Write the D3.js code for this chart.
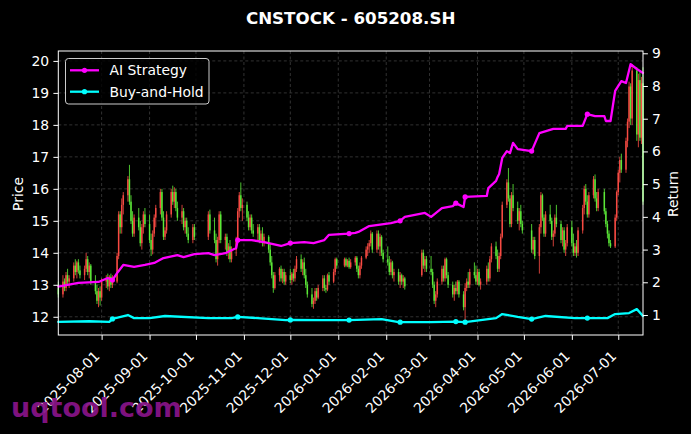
<!DOCTYPE html>
<html><head><meta charset="utf-8">
<script src="https://cdn.jsdelivr.net/npm/d3@7"></script>
<style>html,body{margin:0;padding:0;background:#000;} svg{display:block;font-family:"DejaVu Sans",sans-serif;}</style>
</head><body><svg id="c" width="691" height="434"></svg>
<script>
const title = "CNSTOCK - 605208.SH";
const firstDay = "2025-07-04", lastDay = "2026-07-17";
const holidays = ["2025-10-01","2025-10-02","2025-10-03","2025-10-06","2025-10-07","2025-10-08",
  "2026-01-01","2026-01-02","2026-02-16","2026-02-17","2026-02-18","2026-02-19","2026-02-20","2026-02-23",
  "2026-04-06","2026-05-01","2026-05-04","2026-05-05","2026-06-19"];

const opens = [
 12.9,12.7,13.1,12.9,13.3,13.1,13.2,13.6,13.4,13.7,13.45,13.3,13.5,13.8,13.4,13.6,13.1,12.8,12.5,12.8,
 12.6,13.1,13.2,12.95,13.25,13.0,13.1,13.9,15.2,14.8,15.5,15.8,16.3,15.6,15.0,14.6,15.1,14.8,14.3,14.8,15.2,
 14.9,14.4,14.1,14.6,15.1,15.4,15.9,15.1,14.5,14.7,15.2,15.9,15.6,15.9,15.4,15.1,15.3,14.8,15.0,14.6,14.4,14.8,
 14.5,15.2,14.7,14.4,13.8,14.4,15.2,14.4,14.5,14.0,14.2,13.8,14.1,14.4,15.3,15.8,15.4,
 15.5,15.1,14.8,15.1,14.7, 14.6,14.8,14.4,14.6,14.3, 14.5,14.1,13.7,13.3,12.9, 13.3,13.5,13.2,13.4,13.1,
 13.3,13.15,13.35,13.2,13.5, 13.8,13.5,13.7,13.3,13.0, 12.7,12.4,12.5,12.8,12.6, 12.9,13.2,12.9,12.85,13.3, 13.1,13.4,13.8,
 13.6,13.8,13.6,13.75,13.55, 13.7,13.85,13.5,13.3,13.6, 13.85,14.1,14.2,14.3,14.6, 14.1,14.6,14.2,14.5,14.0,
 13.8,13.7,13.4,13.7,13.3, 13.4,13.1,13.3,13.1,13.2, 13.3,14.0,13.6,13.8,
 13.5,13.4,13.0,12.5,12.7, 13.1,13.5,13.2,13.8,13.3, 13.0,12.7,12.9,12.8,13.1, 12.7,12.3,12.9,13.1,13.0, 13.4,13.3,
 13.1,13.4,13.0, 13.1,13.5,13.2,13.8, 14.2,13.9,13.5,13.9,14.5, 15.5,16.2,15.7,14.9,15.8, 15.4,15.0,15.3,14.9,
 14.7,14.1,14.4, 13.9,14.8,15.8,15.1,14.6, 15.2,15.0,14.5,14.6,15.1, 14.9,14.4,14.7,14.1,14.3,
 14.8,14.3,14.0,14.2,14.0, 14.7,15.4,16.0,15.6,15.2, 15.8,16.3,15.7,15.4, 15.9,15.3,14.9,14.6,14.3, 14.2,15.1,
 15.9,16.5,16.9, 16.6,17.5,18.1,19.2,18.2, 19.7,17.7,19.4,17.6,19.3];
const highs = [
 13.1,13.3,13.2,13.4,13.5,13.3,13.7,13.8,13.75,13.8,13.6,13.6,14.0,13.9,13.7,13.65,13.3,13.0,12.9,12.95,
 13.2,13.3,13.35,13.3,13.35,13.3,14.0,15.3,15.3,15.7,15.9,16.4,16.75,15.8,15.3,15.2,15.4,15.0,14.9,15.3,15.4,
 15.2,14.6,14.7,15.2,15.5,16.0,16.0,15.3,14.8,15.3,16.0,16.1,16.05,16.0,15.6,15.5,15.4,15.1,15.1,14.8,14.9,14.9,
 15.3,15.35,15.1,14.6,14.5,15.3,15.3,14.6,14.6,14.3,14.4,14.2,14.5,15.4,15.9,16.2,15.7,
 15.6,15.3,15.2,15.2,14.9, 14.9,14.9,14.7,14.8,14.6, 14.55,14.3,13.9,13.4,13.4, 13.55,13.6,13.5,13.5,13.4,
 13.5,13.4,13.5,13.6,13.9, 13.95,13.8,13.85,13.5,13.1, 12.9,12.6,12.9,12.9,13.0, 13.3,13.3,13.0,13.35,13.4, 13.5,13.85,13.85,
 13.85,13.85,13.8,13.85,13.8, 13.9,13.9,13.6,13.7,13.9, 14.2,14.3,14.4,14.7,14.65, 14.7,14.7,14.6,14.55,14.1,
 14.2,13.9,13.8,13.75,13.5, 13.5,13.4,13.35,13.3,13.25, 14.1,14.1,13.9,13.9,
 13.9,13.5,13.1,12.8,13.2, 13.6,13.6,13.85,13.85,13.4, 13.1,13.0,13.1,13.15,13.15, 12.8,13.05,13.2,13.4,13.5, 13.7,13.6,
 13.5,13.5,13.2, 13.6,13.7,13.9,14.3, 14.35,14.1,14.0,14.6,15.6, 16.3,16.65,15.8,15.9,16.15, 15.6,15.4,15.5,15.0,
 14.9,14.5,14.5, 14.9,15.9,15.85,15.2,15.3, 15.5,15.1,14.7,15.2,15.5, 15.0,14.8,14.8,14.4,14.9,
 15.0,14.6,14.3,14.4,14.8, 15.5,16.1,16.15,15.8,15.9, 16.4,16.45,15.9,16.0, 16.0,15.4,15.0,14.7,14.4, 15.2,15.95,
 16.6,17.0,17.1, 17.6,18.2,19.35,19.3,19.9, 19.8,19.6,19.7,19.5,19.8];
const lows = [
 12.6,12.6,12.8,12.8,13.0,12.9,13.1,13.3,13.2,13.35,13.2,13.15,13.4,13.3,13.2,13.0,12.7,12.4,12.3,12.35,
 12.5,12.9,12.85,12.8,12.9,12.9,13.05,13.8,14.6,14.6,15.2,15.6,15.5,14.9,14.5,14.5,14.7,14.2,14.1,14.6,14.8,
 14.3,13.9,13.95,14.5,14.8,15.2,15.0,14.4,14.4,14.6,15.1,15.5,15.4,15.3,15.0,14.9,14.7,14.6,14.5,14.3,14.3,14.4,
 14.4,14.6,14.3,13.7,13.6,14.3,14.3,14.1,13.9,13.8,13.7,13.7,13.9,14.3,15.1,15.3,15.0,
 15.0,14.7,14.7,14.6,14.5, 14.4,14.3,14.3,14.2,14.2, 14.0,13.6,13.2,12.75,12.85, 13.1,13.1,13.05,13.0,13.0,
 13.05,13.0,13.1,13.1,13.4, 13.4,13.3,13.2,12.9,12.6, 12.3,12.25,12.4,12.5,12.55, 12.8,12.8,12.75,12.8,13.0, 13.05,13.3,13.5,
 13.55,13.55,13.55,13.5,13.5, 13.6,13.4,13.2,13.2,13.5, 13.8,13.9,14.0,14.2,14.0, 14.0,14.1,13.9,13.9,13.7,
 13.6,13.3,13.3,13.2,13.1, 13.0,12.9,13.0,12.9,12.85, 13.25,13.5,13.4,13.4,
 13.3,12.9,12.4,12.3,12.6, 13.0,13.1,13.1,13.2,12.9, 12.6,12.5,12.7,12.7,12.6, 12.2,11.9,12.8,12.9,12.9, 13.2,13.0,
 13.0,12.95,12.85, 13.0,13.1,13.1,13.7, 13.8,13.4,13.4,13.8,14.45, 15.4,15.6,14.8,14.8,15.3, 14.9,14.7,14.8,14.6,
 14.0,13.95,13.8, 13.35,14.6,15.0,14.5,14.5, 14.9,14.4,14.2,14.5,14.8, 14.3,14.2,14.0,13.9,14.2,
 14.2,13.9,13.9,13.85,13.9, 14.6,15.2,15.5,15.1,15.1, 15.7,15.6,15.3,15.3, 15.2,14.8,14.45,14.2,14.15, 14.15,15.0,
 15.8,16.2,16.5, 16.5,17.3,17.9,18.0,18.0, 17.5,17.3,17.5,17.4,15.5];
const closes = [
 12.7,13.1,12.9,13.3,13.1,13.2,13.6,13.4,13.7,13.45,13.3,13.5,13.8,13.4,13.6,13.1,12.8,12.5,12.8,12.6,
 13.1,13.2,12.95,13.25,13.0,13.1,13.9,15.2,14.8,15.5,15.8,16.3,15.6,15.0,14.6,15.1,14.8,14.3,14.8,15.2,14.9,
 14.4,14.1,14.6,15.1,15.4,15.9,15.1,14.5,14.7,15.2,15.9,15.6,15.9,15.4,15.1,15.3,14.8,15.0,14.6,14.4,14.8,14.5,
 15.2,14.7,14.4,13.8,14.4,15.2,14.4,14.5,14.0,14.2,13.8,14.1,14.4,15.3,15.8,15.4,15.5,
 15.1,14.8,15.1,14.7,14.6, 14.8,14.4,14.6,14.3,14.5, 14.1,13.7,13.3,12.9,13.3, 13.5,13.2,13.4,13.1,13.3,
 13.15,13.35,13.2,13.5,13.8, 13.5,13.7,13.3,13.0,12.7, 12.4,12.5,12.8,12.6,12.9, 13.2,12.9,12.85,13.3,13.1, 13.4,13.8,13.6,
 13.8,13.6,13.75,13.55,13.7, 13.85,13.5,13.3,13.6,13.85, 14.1,14.2,14.3,14.6,14.1, 14.6,14.2,14.5,14.0,13.8,
 13.7,13.4,13.7,13.3,13.4, 13.1,13.3,13.1,13.2,12.95, 14.0,13.6,13.8,13.5,
 13.4,13.0,12.5,12.7,13.1, 13.5,13.2,13.8,13.3,13.0, 12.7,12.9,12.8,13.1,12.7, 12.3,12.9,13.1,13.0,13.4, 13.3,13.1,
 13.4,13.0,13.1, 13.5,13.2,13.8,14.2, 13.9,13.5,13.9,14.5,15.5, 16.2,15.7,14.9,15.8,15.4, 15.0,15.3,14.9,14.7,
 14.1,14.4,13.9, 14.8,15.8,15.1,14.6,15.2, 15.0,14.5,14.6,15.1,14.9, 14.4,14.7,14.1,14.3,14.8,
 14.3,14.0,14.2,14.0,14.7, 15.4,16.0,15.6,15.2,15.8, 16.3,15.7,15.4,15.9, 15.3,14.9,14.6,14.3,14.2, 15.1,15.9,
 16.5,16.9,16.6, 17.5,18.1,19.2,18.2,19.7, 17.7,19.4,17.6,19.3,15.6];

const stratDates = ["2025-07-04","2025-07-17","2025-07-30","2025-08-05","2025-08-08","2025-08-11","2025-08-15","2025-08-22","2025-08-29",
 "2025-09-04","2025-09-10","2025-09-19","2025-09-23","2025-09-30","2025-10-09","2025-10-13","2025-10-20","2025-10-27","2025-10-28",
 "2025-11-06","2025-11-14","2025-11-25","2025-12-01","2025-12-10","2025-12-16","2025-12-23","2025-12-26",
 "2026-01-05","2026-01-08","2026-01-12","2026-01-14","2026-01-21","2026-02-04","2026-02-10","2026-02-13","2026-02-26",
 "2026-03-02","2026-03-09","2026-03-16","2026-03-18","2026-03-23","2026-03-24","2026-04-07","2026-04-08","2026-04-13",
 "2026-04-14","2026-04-15","2026-04-17","2026-04-20","2026-04-22","2026-04-24","2026-04-27","2026-05-06","2026-05-11",
 "2026-05-20","2026-05-28","2026-05-29","2026-06-08","2026-06-11","2026-06-16","2026-06-22","2026-06-23","2026-06-26",
 "2026-06-29","2026-07-03","2026-07-06","2026-07-09","2026-07-13","2026-07-17"];
const stratValues = [1.87,1.98,2.01,2.13,2.07,2.28,2.53,2.47,2.53,
 2.59,2.74,2.83,2.77,2.86,2.89,2.83,2.89,3.05,3.29,
 3.29,3.23,3.11,3.20,3.23,3.20,3.29,3.45,
 3.48,3.49,3.51,3.54,3.72,3.81,3.88,4.00,4.12,
 4.00,4.27,4.33,4.42,4.30,4.61,4.64,4.88,5.10,
 5.22,5.31,5.80,6.01,5.95,6.26,6.07,6.01,6.56,
 6.69,6.69,6.78,6.78,7.14,7.08,7.08,6.93,6.93,
 7.85,8.15,8.09,8.67,8.52,8.40];

const bhDates = ["2025-07-04","2025-07-24","2025-08-06","2025-08-08","2025-08-18","2025-08-22","2025-09-01","2025-09-11",
 "2025-10-09","2025-10-24","2025-10-28","2025-11-10","2025-11-28","2025-12-01","2025-12-22","2026-01-08","2026-01-29",
 "2026-02-09","2026-02-10","2026-03-02","2026-03-18","2026-03-24","2026-04-13","2026-04-17","2026-04-27","2026-05-06",
 "2026-05-15","2026-06-03","2026-06-11","2026-06-24","2026-06-29","2026-07-08","2026-07-13","2026-07-17"];
const bhValues = [0.79,0.81,0.79,0.88,1.00,0.905,0.905,0.97,
 0.905,0.905,0.94,0.905,0.845,0.85,0.845,0.845,0.875,
 0.78,0.78,0.78,0.80,0.78,0.905,1.03,0.94,0.875,
 0.97,0.905,0.905,0.905,1.03,1.06,1.18,0.97];

const markerDates = ["2025-08-08","2025-10-28","2025-12-01","2026-01-08","2026-02-10","2026-03-18","2026-03-24","2026-05-06","2026-06-11"];
const priceTicks = [12,13,14,15,16,17,18,19,20];
const returnTicks = [1,2,3,4,5,6,7,8,9];
const monthTicks = ["2025-08-01","2025-09-01","2025-10-01","2025-11-01","2025-12-01","2026-01-01",
 "2026-02-01","2026-03-01","2026-04-01","2026-05-01","2026-06-01","2026-07-01"];
const seriesNames = ["AI Strategy","Buy-and-Hold"];
const seriesColors = ["#ff00ff","#00ffff"];
const upColor = "#ff4d45", downColor = "#5ef03a";

const parse = d3.utcParse("%Y-%m-%d");
const fmt = d3.utcFormat("%Y-%m-%d");
const hol = new Set(holidays);
const tradeDays = d3.utcDay.range(parse(firstDay), d3.utcDay.offset(parse(lastDay), 1))
  .filter(d => d.getUTCDay() !== 0 && d.getUTCDay() !== 6 && !hol.has(fmt(d)));

const L = 58.3, R = 643, T = 51, B = 335;
const svg = d3.select("#c");
svg.append("rect").attr("width",691).attr("height",434).attr("fill","#000");

const x = d3.scaleUtc().domain([parse(firstDay), parse(lastDay)]).range([L, R]);
const yP = d3.scaleLinear().domain([11.43, 20.31]).range([B, T]);
const yR = d3.scaleLinear().domain([0.389, 9.07]).range([B, T]);

// grid
const grid = svg.append("g").attr("stroke","#ffffff").attr("stroke-opacity",0.28).attr("stroke-width",0.7).attr("stroke-dasharray","3,2.5");
monthTicks.forEach(m => { const xx = x(parse(m)); grid.append("line").attr("x1",xx).attr("x2",xx).attr("y1",T).attr("y2",B); });
priceTicks.forEach(p => { const yy = yP(p); grid.append("line").attr("x1",L).attr("x2",R).attr("y1",yy).attr("y2",yy); });

// candles
const n = Math.min(tradeDays.length, opens.length, highs.length, lows.length, closes.length);
const cg = svg.append("g");
for (let i = 0; i < n; i++) {
  const d = tradeDays[i], o = opens[i], h = highs[i], l = lows[i], c = closes[i];
  const col = c >= o ? upColor : downColor;
  const xx = x(d);
  cg.append("line").attr("x1",xx).attr("x2",xx).attr("y1",yP(h)).attr("y2",yP(l))
    .attr("stroke",col).attr("stroke-width",0.9).attr("stroke-opacity",0.9);
  const y1 = yP(Math.max(o,c)), y2 = yP(Math.min(o,c));
  cg.append("rect").attr("x",xx-0.75).attr("width",1.5).attr("y",y1).attr("height",Math.max(0.6,y2-y1))
    .attr("fill",col).attr("fill-opacity",0.9);
}

// return lines
const mset = new Set(markerDates);
function drawSeries(dates, vals, color) {
  const pts = dates.map((d,i) => [parse(d), vals[i]]);
  const line = d3.line().x(p => x(p[0])).y(p => yR(p[1]));
  svg.append("path").attr("d", line(pts)).attr("fill","none").attr("stroke",color)
    .attr("stroke-width",2.3).attr("stroke-linejoin","round").attr("stroke-linecap","round");
  svg.append("g").selectAll("circle").data(pts.filter(p => mset.has(fmt(p[0])))).join("circle")
    .attr("cx",p => x(p[0])).attr("cy",p => yR(p[1])).attr("r",2.6).attr("fill",color);
}
drawSeries(stratDates, stratValues, seriesColors[0]);
drawSeries(bhDates, bhValues, seriesColors[1]);

// spines
svg.append("rect").attr("x",L).attr("y",T).attr("width",R-L).attr("height",B-T)
  .attr("fill","none").attr("stroke","#fff").attr("stroke-width",1);

const fs = 13.9;
// left axis
const ax = d3.axisLeft(yP).tickValues(priceTicks).tickSize(4.9).tickPadding(4.2).tickFormat(d3.format("d"));
const gl = svg.append("g").attr("transform",`translate(${L},0)`).call(ax);
// right axis
const ar = d3.axisRight(yR).tickValues(returnTicks).tickSize(4.9).tickPadding(4.2).tickFormat(d3.format("d"));
const gr = svg.append("g").attr("transform",`translate(${R},0)`).call(ar);
// bottom axis
const ab = d3.axisBottom(x).tickValues(monthTicks.map(parse)).tickSize(4.9).tickFormat(fmt);
const gb = svg.append("g").attr("transform",`translate(0,${B})`).call(ab);
[gl,gr,gb].forEach(g => {
  g.select(".domain").remove();
  g.selectAll(".tick line").attr("stroke","#fff").attr("stroke-width",1);
  g.selectAll(".tick text").attr("fill","#fff").style("font-size",fs+"px").style("font-family","DejaVu Sans");
});
gb.selectAll(".tick text").attr("x",0).attr("y",0).attr("dy",0).attr("text-anchor","end")
  .attr("transform","translate(-1.5,22) rotate(-45)");

// labels
svg.append("text").attr("transform","translate(22.5,194) rotate(-90)").attr("text-anchor","middle")
  .attr("fill","#fff").style("font-size",fs+"px").text("Price");
svg.append("text").attr("transform","translate(678,194) rotate(-90)").attr("text-anchor","middle")
  .attr("fill","#fff").style("font-size",fs+"px").text("Return");
svg.append("text").attr("x",(L+R)/2).attr("y",24).attr("text-anchor","middle").attr("fill","#fff")
  .style("font-size","16.7px").style("font-weight","bold").text(title);

// legend
const lg = svg.append("g");
lg.append("rect").attr("x",65.5).attr("y",58.5).attr("width",143.5).attr("height",45.5).attr("rx",3)
  .attr("fill","#000").attr("fill-opacity",0.8).attr("stroke","#cccccc").attr("stroke-width",1);
seriesNames.forEach((s,i) => {
  const yy = 70.3 + i*21.4;
  lg.append("line").attr("x1",70).attr("x2",99).attr("y1",yy).attr("y2",yy).attr("stroke",seriesColors[i]).attr("stroke-width",2.3);
  lg.append("circle").attr("cx",84.5).attr("cy",yy).attr("r",2.6).attr("fill",seriesColors[i]);
  lg.append("text").attr("x",109.5).attr("y",yy+4.9).attr("fill","#fff").style("font-size",fs+"px").text(s);
});

// watermark
svg.append("text").attr("x",11).attr("y",417).attr("fill","rgb(135,20,135)").attr("fill-opacity",0.95)
  .style("font-size","27px").style("font-weight","bold").text("uqtool.com");
</script></body></html>
